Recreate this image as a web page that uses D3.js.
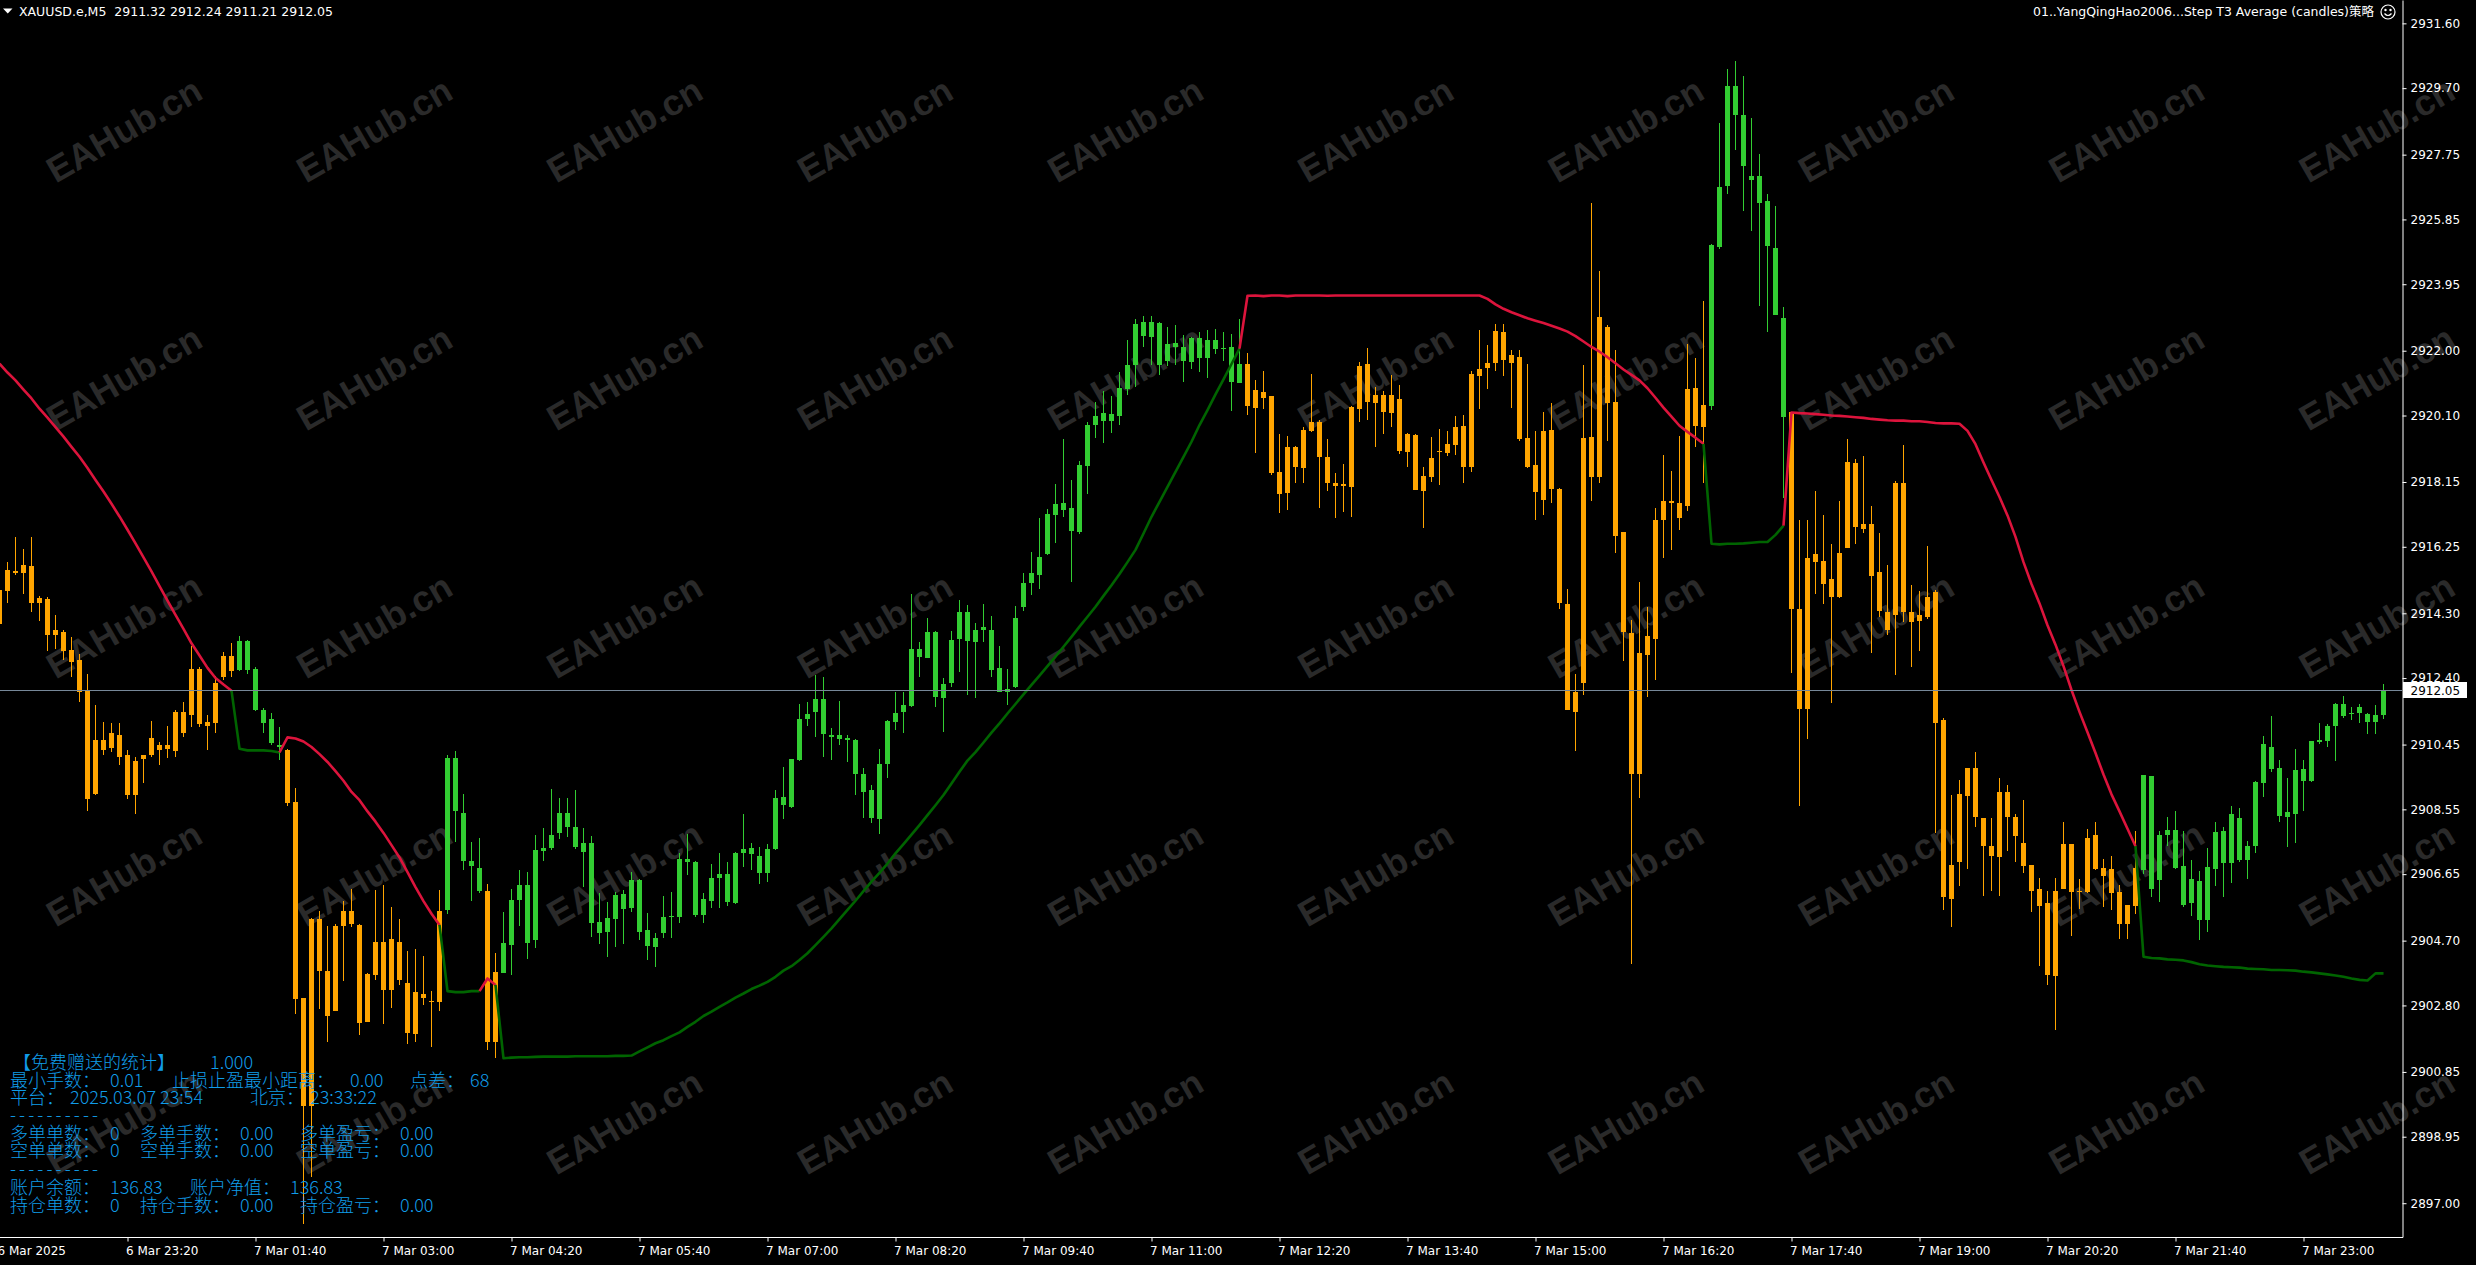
<!DOCTYPE html>
<html><head><meta charset="utf-8">
<script src="https://cdn.jsdelivr.net/npm/d3@7"></script>
<style>
html,body{margin:0;padding:0;background:#000;overflow:hidden;}
svg{display:block;}
</style></head>
<body>
<svg id="chart" width="2476" height="1265"></svg>
<script>
// ---------- DATA (XAUUSD.e, M5) ----------
const openP = [
2914.00,2914.94,2915.53,2915.47,2915.70,2914.61,2914.71,2913.67,2913.75,2913.21,
2912.93,2912.03,2909.01,2910.59,2910.36,2910.74,2910.13,2908.98,2910.04,2910.13,
2910.43,2910.33,2910.27,2911.40,2911.32,2912.67,2911.12,2911.07,2912.44,2912.60,
2912.63,2913.49,2912.68,2911.45,2911.19,2910.43,2910.30,2908.78,2903.03,2899.85,
2905.33,2903.80,2902.65,2905.12,2905.56,2905.16,2902.32,2903.68,2904.67,2903.26,
2904.67,2903.47,2901.96,2903.14,2902.93,2902.89,2905.61,2910.05,2908.45,2907.04,
2906.84,2906.15,2901.74,2903.76,2904.57,2905.89,2906.33,2904.72,2907.34,2907.43,
2907.86,2908.43,2908.02,2907.57,2907.57,2905.25,2904.96,2905.32,2906.07,2905.67,
2906.48,2905.01,2904.52,2904.91,2905.38,2905.40,2907.08,2907.01,2905.45,2905.87,
2906.55,2906.65,2905.79,2907.26,2907.43,2907.19,2906.67,2907.39,2908.90,2908.63,
2910.00,2911.19,2911.41,2911.78,2910.72,2910.62,2910.63,2910.58,2909.58,2909.11,
2908.28,2909.88,2911.12,2911.41,2911.59,2913.24,2912.98,2913.76,2911.83,2912.26,
2913.54,2914.33,2913.47,2913.81,2913.81,2912.70,2912.00,2912.13,2914.49,2915.20,
2915.42,2916.04,2917.18,2917.33,2917.38,2916.69,2918.63,2919.82,2920.18,2919.94,
2920.09,2920.88,2921.58,2922.83,2922.41,2922.82,2921.71,2922.22,2922.12,2921.68,
2922.36,2921.80,2922.31,2922.05,2922.10,2921.06,2921.61,2920.31,2920.80,2920.67,
2918.45,2917.84,2919.19,2918.57,2919.66,2919.90,2918.89,2918.13,2918.03,2918.01,
2920.28,2921.61,2920.46,2920.70,2920.18,2920.58,2919.04,2919.53,2917.90,2918.31,
2919.04,2919.00,2919.23,2919.80,2918.59,2921.26,2921.49,2921.63,2922.56,2921.88,
2921.81,2919.45,2918.65,2917.63,2919.68,2917.94,2914.56,2911.40,2912.25,2919.48,
2918.29,2922.70,2920.51,2916.69,2913.72,2909.58,2913.08,2913.55,2917.05,2917.58,
2917.53,2917.46,2920.90,2919.77,2920.37,2925.04,2926.82,2929.75,2928.92,2927.12,
2927.12,2926.38,2925.01,2922.95,2920.19,2914.43,2911.48,2915.80,2915.84,2915.31,
2914.79,2916.21,2918.70,2916.92,2916.92,2915.50,2914.33,2914.26,2918.11,2914.33,
2914.06,2914.20,2914.91,2911.16,2905.92,2907.00,2908.93,2909.76,2908.30,2907.47,
2907.15,2909.06,2908.32,2907.56,2906.92,2906.20,2905.79,2903.65,2906.20,2907.53,
2906.13,2906.13,2907.79,2906.83,2906.79,2906.13,2905.18,2905.73,2906.77,2909.54,
2906.49,2907.79,2907.94,2906.90,2905.79,2906.45,2905.31,2906.81,2907.91,2906.99,
2908.30,2907.06,2907.47,2909.31,2910.39,2909.76,2908.33,2908.42,2909.72,2909.38,
2910.52,2910.56,2910.99,2911.28,2911.35,2911.37,2911.35,2911.12,2911.32];

const highP = [
2915.10,2915.81,2916.55,2916.19,2916.55,2914.82,2914.79,2914.25,2913.80,2913.59,
2913.10,2912.52,2911.61,2911.12,2911.09,2911.09,2910.30,2910.10,2910.13,2911.15,
2910.53,2910.99,2911.45,2911.70,2913.34,2912.73,2911.32,2912.47,2913.15,2913.42,
2913.64,2913.51,2912.72,2911.53,2911.37,2910.96,2910.33,2909.18,2903.03,2905.36,
2905.56,2905.12,2905.20,2905.86,2906.22,2905.20,2903.75,2906.18,2906.32,2905.69,
2905.33,2904.41,2904.46,2904.26,2903.22,2906.18,2910.15,2910.25,2909.01,2907.58,
2907.71,2906.35,2904.33,2905.55,2906.20,2906.77,2906.70,2907.80,2908.01,2909.16,
2908.87,2908.87,2909.11,2907.99,2907.77,2906.10,2905.84,2906.13,2906.18,2906.72,
2906.51,2905.50,2904.91,2906.01,2906.13,2907.26,2907.82,2907.03,2906.09,2906.96,
2907.26,2907.01,2907.31,2908.41,2907.55,2907.45,2907.52,2909.11,2909.78,2910.04,
2911.64,2911.71,2912.49,2912.42,2910.94,2911.73,2910.73,2910.60,2909.77,2909.26,
2910.31,2911.17,2911.98,2911.98,2914.88,2913.47,2914.15,2913.78,2912.39,2913.78,
2914.69,2914.55,2914.02,2914.57,2914.22,2913.34,2912.66,2914.51,2915.47,2916.09,
2917.08,2917.36,2918.09,2919.41,2918.21,2918.77,2919.92,2920.51,2920.83,2920.67,
2921.39,2922.31,2922.92,2923.02,2923.02,2922.85,2922.70,2922.75,2922.46,2922.41,
2922.56,2922.61,2922.63,2922.54,2922.49,2922.92,2921.92,2921.14,2921.41,2920.67,
2919.56,2919.50,2919.21,2919.75,2921.31,2919.97,2919.41,2918.42,2918.68,2920.38,
2921.68,2922.07,2920.95,2920.82,2921.29,2920.99,2919.58,2919.56,2918.60,2919.48,
2919.70,2919.66,2920.10,2920.12,2921.40,2922.61,2922.17,2922.77,2922.79,2922.01,
2922.02,2921.61,2919.66,2920.21,2920.46,2917.97,2915.00,2912.52,2921.58,2926.32,
2924.33,2922.75,2922.02,2916.69,2914.11,2915.23,2914.47,2917.40,2918.95,2918.47,
2919.50,2922.20,2921.79,2923.45,2925.13,2928.69,2930.25,2930.50,2930.07,2928.83,
2927.76,2926.61,2926.25,2923.27,2920.19,2917.05,2917.05,2917.88,2917.17,2916.34,
2917.58,2919.41,2918.82,2918.91,2917.46,2916.64,2915.71,2918.17,2919.23,2915.13,
2914.95,2916.26,2914.97,2911.22,2908.96,2909.41,2909.76,2910.23,2908.30,2908.30,
2909.47,2909.25,2908.42,2908.83,2906.92,2906.55,2906.16,2906.55,2908.17,2907.53,
2906.51,2907.98,2908.17,2907.09,2907.18,2906.32,2905.75,2907.91,2909.57,2909.54,
2907.91,2908.32,2908.51,2907.91,2907.06,2906.74,2907.43,2908.19,2908.04,2908.65,
2908.58,2907.63,2909.38,2910.69,2911.28,2910.01,2909.47,2910.33,2910.01,2910.56,
2911.09,2911.05,2911.67,2911.86,2911.54,2911.63,2911.37,2911.60,2912.24];

const lowP = [
2913.90,2914.61,2915.43,2914.87,2914.35,2914.08,2913.18,2913.26,2912.93,2912.44,
2911.70,2908.49,2908.98,2910.13,2910.22,2909.85,2908.85,2908.41,2909.31,2910.10,
2909.84,2910.05,2910.10,2910.66,2910.96,2910.96,2910.30,2910.79,2912.35,2912.44,
2912.60,2912.52,2911.42,2910.79,2910.43,2910.00,2908.65,2902.56,2896.40,2897.78,
2902.70,2901.74,2902.65,2903.52,2905.10,2901.94,2902.32,2903.55,2902.27,2902.73,
2903.39,2901.66,2901.74,2902.81,2901.58,2902.65,2905.49,2907.58,2906.76,2905.86,
2906.10,2901.50,2901.25,2903.74,2903.69,2905.13,2904.16,2904.47,2907.03,2907.36,
2907.67,2907.75,2907.40,2906.28,2904.81,2904.60,2904.23,2904.50,2904.60,2905.53,
2904.72,2904.13,2903.93,2904.77,2904.79,2905.22,2906.62,2905.40,2905.22,2905.65,
2905.65,2905.72,2905.77,2906.87,2906.77,2906.36,2906.43,2907.36,2908.28,2908.58,
2909.97,2910.99,2910.68,2910.09,2910.01,2910.43,2909.95,2908.97,2908.31,2908.14,
2907.82,2909.46,2910.87,2910.78,2911.56,2912.44,2912.98,2911.56,2910.83,2912.15,
2912.59,2911.90,2911.81,2913.47,2912.44,2912.00,2911.61,2912.10,2914.37,2914.84,
2915.01,2916.01,2916.35,2917.11,2915.23,2916.62,2917.80,2919.43,2919.30,2919.60,
2919.82,2920.70,2920.93,2922.10,2921.58,2921.29,2921.56,2921.58,2921.09,2921.46,
2921.37,2921.19,2921.89,2921.70,2920.24,2921.04,2920.11,2918.99,2920.29,2918.36,
2917.23,2917.33,2918.11,2918.13,2919.61,2917.40,2917.89,2917.08,2917.28,2917.13,
2919.92,2919.97,2919.19,2919.56,2919.75,2918.97,2918.60,2917.91,2916.79,2918.16,
2918.06,2918.90,2918.95,2918.11,2918.43,2920.28,2920.87,2921.40,2921.26,2920.33,
2919.36,2918.56,2917.05,2917.17,2917.53,2914.43,2911.45,2910.26,2911.89,2917.58,
2918.11,2919.36,2916.07,2912.91,2904.02,2908.87,2911.84,2912.34,2915.93,2916.16,
2916.75,2917.31,2919.18,2918.11,2920.25,2924.99,2926.59,2927.89,2926.11,2925.52,
2923.30,2922.56,2923.05,2917.67,2912.55,2908.64,2910.60,2914.86,2914.56,2911.66,
2914.74,2916.21,2916.34,2916.66,2913.14,2914.20,2913.67,2912.48,2914.03,2912.73,
2913.19,2914.13,2907.85,2905.60,2905.09,2906.29,2906.79,2908.04,2906.01,2906.16,
2906.01,2907.32,2907.02,2906.67,2905.54,2903.95,2903.40,2902.09,2906.20,2904.84,
2905.62,2906.10,2906.76,2905.69,2905.60,2904.76,2904.76,2905.47,2906.64,2905.98,
2905.82,2907.47,2906.79,2905.69,2905.41,2904.71,2904.96,2906.29,2905.98,2906.39,
2907.02,2906.51,2907.28,2908.91,2909.66,2908.17,2907.44,2907.56,2908.49,2909.34,
2910.48,2910.39,2909.97,2911.22,2911.16,2911.07,2910.77,2910.77,2911.21];

const closeP = [
2914.99,2915.56,2915.47,2915.73,2914.61,2914.74,2913.66,2913.80,2913.19,2912.88,
2911.98,2908.85,2910.59,2910.30,2910.79,2910.10,2908.98,2909.97,2910.13,2910.63,
2910.30,2910.45,2911.40,2910.79,2912.68,2911.05,2910.99,2912.27,2913.06,2913.06,
2913.49,2912.63,2911.45,2911.09,2910.50,2910.38,2908.75,2902.98,2899.85,2905.33,
2903.80,2902.48,2905.12,2905.56,2905.20,2902.28,2903.72,2904.67,2903.26,2904.74,
2903.55,2901.99,2903.19,2903.03,2902.89,2905.56,2910.05,2908.49,2907.04,2906.88,
2906.15,2901.74,2903.79,2904.62,2905.89,2906.33,2904.64,2907.36,2907.43,2907.80,
2908.43,2908.04,2907.45,2907.31,2905.22,2904.93,2905.35,2906.04,2905.62,2906.48,
2904.96,2904.54,2904.78,2905.38,2905.42,2907.08,2907.01,2905.45,2905.91,2906.55,
2906.65,2905.84,2907.28,2907.40,2907.23,2906.67,2907.39,2908.88,2908.69,2910.02,
2911.19,2911.34,2911.78,2910.75,2910.66,2910.72,2910.58,2909.60,2909.07,2908.31,
2909.88,2911.14,2911.38,2911.61,2913.24,2913.01,2913.76,2911.85,2912.24,2913.53,
2914.33,2913.49,2913.81,2913.89,2912.64,2912.00,2912.09,2914.15,2915.18,2915.47,
2915.96,2917.21,2917.50,2917.54,2916.72,2918.65,2919.82,2920.09,2919.95,2920.14,
2920.90,2921.58,2922.77,2922.43,2922.83,2921.58,2922.20,2922.10,2921.69,2922.36,
2921.80,2922.31,2922.05,2922.07,2921.09,2921.61,2920.39,2920.85,2920.60,2918.40,
2917.79,2919.19,2918.60,2919.67,2919.90,2918.89,2918.13,2918.03,2918.09,2920.34,
2921.55,2920.51,2920.70,2920.21,2920.70,2919.07,2919.56,2917.93,2918.33,2918.84,
2919.06,2919.27,2919.77,2918.59,2921.31,2921.45,2921.63,2922.59,2921.72,2921.63,
2919.41,2918.59,2917.85,2919.66,2917.94,2914.61,2911.45,2911.98,2919.45,2918.29,
2923.00,2920.46,2916.57,2913.76,2909.58,2913.14,2913.62,2917.05,2917.58,2917.53,
2917.10,2920.87,2919.80,2920.42,2925.10,2926.79,2929.75,2928.92,2927.41,2927.00,
2926.34,2925.08,2923.05,2920.07,2914.43,2911.48,2915.93,2916.03,2915.15,2914.79,
2916.07,2918.74,2916.83,2916.78,2915.39,2914.38,2913.81,2918.11,2914.33,2914.03,
2914.24,2914.79,2911.09,2905.97,2906.92,2908.99,2909.76,2908.32,2907.47,2907.18,
2909.06,2908.32,2907.76,2906.90,2906.17,2905.73,2903.69,2906.17,2907.53,2906.13,
2906.17,2907.70,2906.79,2906.60,2906.11,2905.20,2905.75,2906.83,2909.57,2906.20,
2907.81,2907.94,2906.83,2905.75,2906.51,2905.31,2906.87,2907.89,2906.99,2908.40,
2907.06,2907.47,2909.34,2910.46,2909.72,2908.36,2908.46,2909.69,2909.38,2910.56,
2910.58,2911.00,2911.63,2911.63,2911.37,2911.54,2911.12,2911.32,2912.05];

// Step T3 Average value per bar
const t3Line = [
2921.62,2921.36,2921.13,2920.86,2920.60,2920.30,2920.04,2919.76,2919.48,2919.18,
2918.89,2918.56,2918.21,2917.87,2917.51,2917.14,2916.75,2916.35,2915.94,2915.53,
2915.10,2914.67,2914.25,2913.84,2913.42,2913.06,2912.70,2912.40,2912.21,2912.03,
2910.33,2910.28,2910.28,2910.28,2910.26,2910.22,2910.66,2910.63,2910.54,2910.38,
2910.17,2909.94,2909.67,2909.39,2909.06,2908.82,2908.49,2908.19,2907.86,2907.50,
2907.14,2906.71,2906.27,2905.86,2905.49,2905.16,2903.22,2903.19,2903.19,2903.22,
2903.22,2903.59,2903.40,2901.25,2901.27,2901.28,2901.28,2901.29,2901.30,2901.30,
2901.30,2901.30,2901.31,2901.31,2901.31,2901.31,2901.31,2901.32,2901.32,2901.33,
2901.45,2901.57,2901.69,2901.78,2901.90,2902.01,2902.17,2902.32,2902.49,2902.62,
2902.76,2902.89,2903.03,2903.15,2903.28,2903.38,2903.49,2903.64,2903.82,2903.95,
2904.13,2904.33,2904.57,2904.81,2905.06,2905.33,2905.60,2905.87,2906.15,2906.43,
2906.69,2906.96,2907.26,2907.53,2907.81,2908.09,2908.38,2908.67,2908.97,2909.31,
2909.65,2909.98,2910.23,2910.51,2910.80,2911.07,2911.36,2911.64,2911.92,2912.20,
2912.47,2912.75,2913.03,2913.32,2913.61,2913.91,2914.20,2914.49,2914.81,2915.12,
2915.45,2915.80,2916.16,2916.64,2917.13,2917.57,2918.01,2918.45,2918.89,2919.33,
2919.82,2920.26,2920.72,2921.16,2921.61,2922.06,2923.61,2923.62,2923.60,2923.62,
2923.62,2923.60,2923.62,2923.62,2923.62,2923.62,2923.61,2923.62,2923.62,2923.62,
2923.62,2923.62,2923.62,2923.62,2923.62,2923.62,2923.62,2923.62,2923.62,2923.62,
2923.62,2923.62,2923.62,2923.62,2923.62,2923.62,2923.52,2923.36,2923.23,2923.13,
2923.04,2922.95,2922.88,2922.81,2922.73,2922.65,2922.56,2922.43,2922.27,2922.11,
2921.97,2921.81,2921.63,2921.45,2921.29,2921.13,2920.90,2920.62,2920.33,2920.07,
2919.80,2919.62,2919.45,2919.27,2916.34,2916.32,2916.34,2916.34,2916.35,2916.37,
2916.39,2916.39,2916.60,2916.87,2920.19,2920.17,2920.16,2920.14,2920.12,2920.10,
2920.09,2920.07,2920.05,2920.03,2920.00,2919.98,2919.96,2919.95,2919.95,2919.93,
2919.93,2919.91,2919.88,2919.87,2919.87,2919.86,2919.65,2919.26,2918.72,2918.21,
2917.71,2917.17,2916.54,2915.80,2915.16,2914.59,2913.95,2913.38,2912.75,2912.05,
2911.41,2910.81,2910.20,2909.57,2908.99,2908.49,2907.98,2907.47,2904.23,2904.19,
2904.18,2904.15,2904.14,2904.12,2904.07,2904.01,2903.97,2903.95,2903.93,2903.92,
2903.91,2903.88,2903.87,2903.86,2903.84,2903.84,2903.83,2903.82,2903.79,2903.77,
2903.74,2903.71,2903.68,2903.64,2903.59,2903.55,2903.53,2903.74,2903.74,2904.02];

// trend runs: [firstBar, lastBar, direction]  (1 = up / green, -1 = down / red-orange)
const trendRuns = [[0,29,-1],[30,35,1],[36,55,-1],[56,60,1],[61,62,-1],[63,155,1],
                   [156,213,-1],[214,223,1],[224,267,-1],[268,298,1]];

const priceTicks = [2931.60,2929.70,2927.75,2925.85,2923.95,2922.00,2920.10,2918.15,2916.25,
  2914.30,2912.40,2910.45,2908.55,2906.65,2904.70,2902.80,2900.85,2898.95,2897.00];

const timeTickBars = [16,32,48,64,80,96,112,128,144,160,176,192,208,224,240,256,272,288];
const timeTickLabels = ["6 Mar 23:20","7 Mar 01:40","7 Mar 03:00","7 Mar 04:20","7 Mar 05:40",
  "7 Mar 07:00","7 Mar 08:20","7 Mar 09:40","7 Mar 11:00","7 Mar 12:20","7 Mar 13:40",
  "7 Mar 15:00","7 Mar 16:20","7 Mar 17:40","7 Mar 19:00","7 Mar 20:20","7 Mar 21:40","7 Mar 23:00"];
const firstDateLabel = "6 Mar 2025";

const symbolTitle = "XAUUSD.e,M5";
const ohlcTitle = ["2911.32","2912.24","2911.21","2912.05"];
const indicatorName = "01..YangQingHao2006...Step T3 Average (candles)策略";
const watermarkText = "EAHub.cn";

const panelText = [
  ["【免费赠送的统计】","1.000"],
  ["最小手数：","0.01","止损止盈最小距离：","0.00","点差：","68"],
  ["平台：","2025.03.07 23:54","北京：","23:33:22"],
  ["----------"],
  ["多单单数：","0","多单手数：","0.00","多单盈亏：","0.00"],
  ["空单单数：","0","空单手数：","0.00","空单盈亏：","0.00"],
  ["----------"],
  ["账户余额：","136.83","账户净值：","136.83"],
  ["持仓单数：","0","持仓手数：","0.00","持仓盈亏：","0.00"]
];

// ---------- LAYOUT ----------
const W = 2476, H = 1265, plotR = 2402, plotB = 1237;
const N = Math.min(openP.length, highP.length, lowP.length, closeP.length, t3Line.length);
const svg = d3.select("#chart");
svg.append("rect").attr("width", W).attr("height", H).attr("fill", "#000");

const x = d3.scaleLinear().domain([0, 298]).range([-0.5, 2383.5]);
const y = d3.scaleLinear().domain([2896.009, 2932.285]).range([plotB, 0]);

const trend = new Array(N).fill(1);
trendRuns.forEach(([a, b, d]) => { for (let i = a; i <= b && i < N; i++) trend[i] = d; });

const UP = "#32cd32", DN = "#ffa500", LUP = "#006400", LDN = "#dc143c";

// watermarks
const wm = svg.append("g");
for (let r = 0; r < 5; r++) {
  for (let c = 0; c < 10; c++) {
    const cx = 124 + 250.3 * c, cy = 130 + 248 * r;
    wm.append("text")
      .attr("transform", `translate(${cx},${cy}) rotate(-30)`)
      .attr("text-anchor", "middle").attr("dominant-baseline", "central")
      .attr("font-family", "'Liberation Sans', Arial, sans-serif")
      .attr("font-weight", "bold").attr("font-size", 36)
      .attr("fill", "#2a2a2a").text(watermarkText);
  }
}

// candles
const bars = d3.range(N).map(i => ({ i, o: openP[i], h: highP[i], l: lowP[i], c: closeP[i], t: trend[i] }));
const cg = svg.append("g").attr("shape-rendering", "crispEdges");
cg.selectAll("rect.wick").data(bars).join("rect").attr("class", "wick")
  .attr("x", d => x(d.i) - 0.5).attr("width", 1)
  .attr("y", d => y(d.h)).attr("height", d => Math.max(1, y(d.l) - y(d.h)))
  .attr("fill", d => d.t > 0 ? UP : DN);
cg.selectAll("rect.body").data(bars).join("rect").attr("class", "body")
  .attr("x", d => x(d.i) - 2.5).attr("width", 5)
  .attr("y", d => y(Math.max(d.o, d.c)))
  .attr("height", d => Math.max(1, Math.abs(y(d.o) - y(d.c))))
  .attr("fill", d => d.t > 0 ? UP : DN);

// T3 line, colored per trend run
const line = d3.line().x(i => x(i)).y(i => y(t3Line[i]));
const lg = svg.append("g");
trendRuns.forEach(([a, b, d]) => {
  const idx = d3.range(Math.max(0, a - 1), Math.min(b, N - 1) + 1);
  lg.append("path").attr("d", line(idx)).attr("fill", "none")
    .attr("stroke", d > 0 ? LUP : LDN).attr("stroke-width", 2.6)
    .attr("stroke-linejoin", "round");
});

// current price line
const lastY = Math.round(y(closeP[N - 1])) + 0.5;
svg.append("line").attr("x1", 0).attr("x2", plotR).attr("y1", lastY).attr("y2", lastY)
  .attr("stroke", "#778899").attr("stroke-width", 1);

// info panel
const panelX = [
  [13, 210],
  [10, 110, 172, 350, 410, 470],
  [10, 70, 250, 310],
  [10],
  [10, 110, 140, 240, 300, 400],
  [10, 110, 140, 240, 300, 400],
  [10],
  [10, 110, 190, 290],
  [10, 110, 140, 240, 300, 400]
];
const panelY = [1061, 1078.5, 1096, 1112.5, 1131.5, 1149, 1166.5, 1186, 1203.5];
const pg = svg.append("g").attr("font-family", "'Noto Sans CJK SC', 'Noto Sans', sans-serif")
  .attr("font-size", 18).attr("font-weight", 300).attr("fill", "#109ce8");
panelText.forEach((segs, li) => {
  segs.forEach((s, si) => {
    const t = pg.append("text").attr("x", panelX[li][si]).attr("y", panelY[li])
      .attr("dominant-baseline", "central").style("white-space", "pre").text(s);
    if (/^-+$/.test(s)) t.attr("textLength", 88).attr("lengthAdjust", "spacing");
  });
});

// axes
const axisFont = "'DejaVu Sans', Verdana, sans-serif";
const yAxis = d3.axisRight(y).tickValues(priceTicks).tickFormat(d3.format(".2f"))
  .tickSize(4).tickSizeOuter(0).tickPadding(4);
const yg = svg.append("g").attr("transform", `translate(${plotR + 0.5},0)`).call(yAxis);
yg.attr("font-family", axisFont).attr("font-size", 12);
yg.select(".domain").attr("stroke", "#fff");
yg.selectAll(".tick line").attr("stroke", "#fff");
yg.selectAll(".tick text").attr("fill", "#fff");

const xAxis = d3.axisBottom(x).tickValues(timeTickBars)
  .tickFormat((d, k) => timeTickLabels[k]).tickSize(4).tickSizeOuter(0);
const xg = svg.append("g").attr("transform", `translate(0,${plotB + 0.5})`).call(xAxis);
xg.attr("font-family", axisFont).attr("font-size", 12);
xg.select(".domain").remove();
xg.selectAll(".tick line").attr("stroke", "#fff");
xg.selectAll(".tick text").attr("fill", "#fff").attr("text-anchor", "start")
  .attr("x", -2).attr("y", 17).attr("dy", 0);
svg.append("line").attr("x1", 0).attr("x2", plotR + 1).attr("y1", plotB + 0.5).attr("y2", plotB + 0.5)
  .attr("stroke", "#fff");
svg.append("text").attr("x", x(0) - 2).attr("y", plotB + 17.5)
  .attr("font-family", axisFont).attr("font-size", 12).attr("fill", "#fff").text(firstDateLabel);

// current price tag
const tagY = y(closeP[N - 1]);
svg.append("rect").attr("x", plotR + 1).attr("y", Math.round(tagY) - 8).attr("width", 64).attr("height", 16)
  .attr("fill", "#fff");
svg.append("text").attr("x", plotR + 8.5).attr("y", Math.round(tagY) + 4.5)
  .attr("font-family", axisFont).attr("font-size", 12).attr("fill", "#000")
  .text(d3.format(".2f")(closeP[N - 1]));

// header
svg.append("path").attr("d", "M3,8.5 L12.5,8.5 L7.75,13.5 Z").attr("fill", "#fff");
svg.append("text").attr("x", 19).attr("y", 16).attr("font-family", axisFont).attr("font-size", 12.5)
  .attr("fill", "#fff").style("white-space", "pre")
  .text(symbolTitle + "  " + ohlcTitle.join(" "));
svg.append("text").attr("x", 2374).attr("y", 16).attr("text-anchor", "end")
  .attr("font-family", axisFont + ", 'Noto Sans CJK SC'").attr("font-size", 12.5)
  .attr("fill", "#fff").text(indicatorName);
const sm = svg.append("g").attr("fill", "none").attr("stroke", "#fff").attr("stroke-width", 1.2);
sm.append("circle").attr("cx", 2388).attr("cy", 12).attr("r", 7);
sm.append("circle").attr("cx", 2385.5).attr("cy", 10).attr("r", 0.6).attr("fill", "#fff");
sm.append("circle").attr("cx", 2390.5).attr("cy", 10).attr("r", 0.6).attr("fill", "#fff");
sm.append("path").attr("d", "M2384.5,13.5 Q2388,17.5 2391.5,13.5");
</script>
</body></html>
